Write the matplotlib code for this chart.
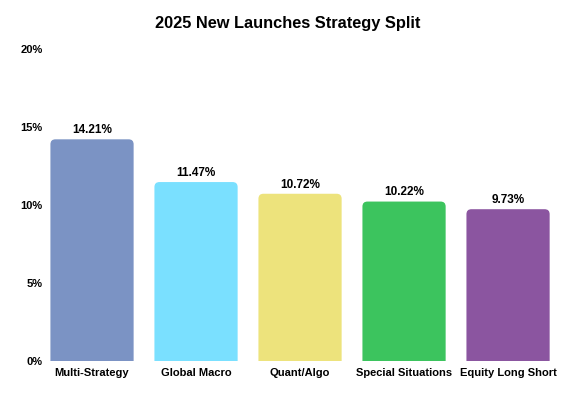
import matplotlib
matplotlib.use("Agg")
import matplotlib.pyplot as plt
import matplotlib.patches as patches
from matplotlib.path import Path

categories = ["Multi-Strategy", "Global Macro", "Quant/Algo", "Special Situations", "Equity Long Short"]
values = [14.21, 11.47, 10.72, 10.22, 9.73]
colors = ["#7b93c4", "#7ae0ff", "#ede37c", "#3cc45e", "#8b55a0"]
yticks = [0, 5, 10, 15, 20]

plt.rcParams['font.family'] = ['Liberation Sans', 'DejaVu Sans']

fig = plt.figure(figsize=(5.75, 3.97), dpi=100)
ax = fig.add_axes([0.0696, 0.0907, 0.9044, 0.7859])

width = 0.8
ax.set_xlim(-0.5, len(categories) - 0.5)
ax.set_ylim(0, 20)

# px per data unit, so the top corners come out round
px_x = 0.9044 * 575 / len(categories)
px_y = 0.7859 * 397 / 20
rx = 5 / px_x
ry = 5 / px_y


def top_round_bar(x0, w, h):
    x1 = x0 + w
    verts = [(x0, 0), (x0, h - ry), (x0, h), (x0 + rx, h),
             (x1 - rx, h), (x1, h), (x1, h - ry), (x1, 0), (x0, 0)]
    codes = [Path.MOVETO, Path.LINETO, Path.CURVE3, Path.CURVE3,
             Path.LINETO, Path.CURVE3, Path.CURVE3, Path.LINETO, Path.CLOSEPOLY]
    return Path(verts, codes)


for i, (v, c) in enumerate(zip(values, colors)):
    ax.add_patch(patches.PathPatch(top_round_bar(i - width / 2, width, v), fc=c, ec="none"))
    ax.text(i, v + 0.2, "%.2f%%" % v, ha="center", va="bottom",
            fontsize=8.5, fontweight="bold")

ax.set_xticks(range(len(categories)))
ax.set_xticklabels(categories, fontsize=8, fontweight="bold")
ax.set_yticks(yticks)
ax.set_yticklabels(["%d%%" % t for t in yticks], fontsize=8, fontweight="bold")
ax.tick_params(length=0)
ax.tick_params(axis="x", pad=5)
ax.tick_params(axis="y", pad=-2)
for s in ax.spines.values():
    s.set_visible(False)

fig.suptitle("2025 New Launches Strategy Split", x=0.5, y=0.96,
             fontsize=11.8, fontweight="bold")

fig.savefig("out.png", dpi=100)
